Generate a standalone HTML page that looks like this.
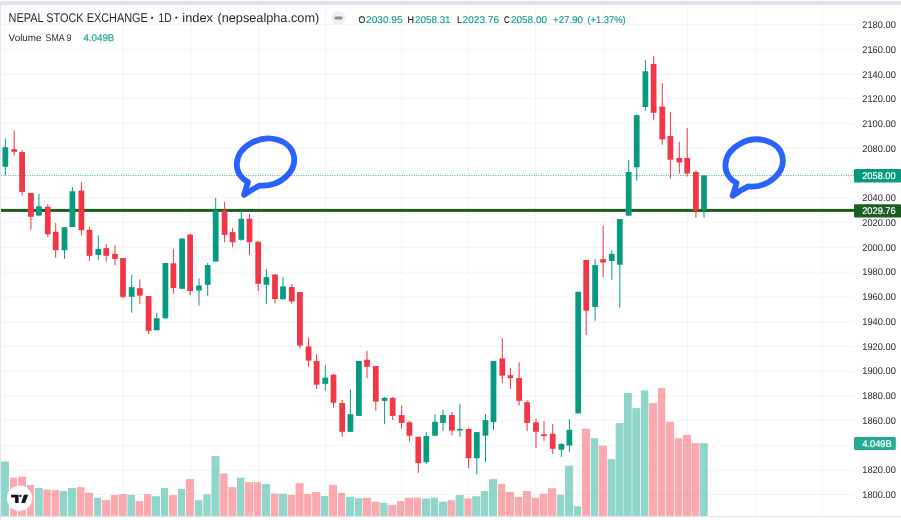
<!DOCTYPE html>
<html lang="en"><head><meta charset="utf-8"><title>NEPAL STOCK EXCHANGE</title>
<style>html,body{margin:0;padding:0;background:#fff;overflow:hidden}body{width:901px;height:520px}svg{display:block;position:absolute;left:0;top:0}text{font-family:"Liberation Sans",Arial,sans-serif;text-rendering:geometricPrecision}</style>
</head><body>
<svg width="901" height="520" viewBox="0 0 901 520">
<rect x="0" y="0" width="901" height="520" fill="#ffffff"/>
<rect x="0" y="0.9" width="901" height="4" fill="#e0e3eb"/>
<rect x="0" y="1" width="1" height="519" fill="#e0e3eb"/>
<rect x="0" y="516" width="854" height="1.1" fill="#e0e3eb"/>
<rect x="855.2" y="516" width="45.8" height="1.1" fill="#e0e3eb"/>
<g fill="rgba(42,46,57,0.055)">
<rect x="4.85" y="5" width="1" height="511"/>
<rect x="122.80" y="5" width="1" height="511"/>
<rect x="190.00" y="5" width="1" height="511"/>
<rect x="258.00" y="5" width="1" height="511"/>
<rect x="325.10" y="5" width="1" height="511"/>
<rect x="401.10" y="5" width="1" height="511"/>
<rect x="468.10" y="5" width="1" height="511"/>
<rect x="535.20" y="5" width="1" height="511"/>
<rect x="602.90" y="5" width="1" height="511"/>
<rect x="686.90" y="5" width="1" height="511"/>
<rect x="755.00" y="5" width="1" height="511"/>
<rect x="821.90" y="5" width="1" height="511"/>
<rect x="1" y="23.90" width="853" height="1"/>
<rect x="1" y="48.90" width="853" height="1"/>
<rect x="1" y="73.80" width="853" height="1"/>
<rect x="1" y="98.20" width="853" height="1"/>
<rect x="1" y="122.60" width="853" height="1"/>
<rect x="1" y="147.70" width="853" height="1"/>
<rect x="1" y="172.80" width="853" height="1"/>
<rect x="1" y="197.40" width="853" height="1"/>
<rect x="1" y="221.80" width="853" height="1"/>
<rect x="1" y="246.80" width="853" height="1"/>
<rect x="1" y="271.70" width="853" height="1"/>
<rect x="1" y="296.70" width="853" height="1"/>
<rect x="1" y="321.70" width="853" height="1"/>
<rect x="1" y="345.90" width="853" height="1"/>
<rect x="1" y="370.80" width="853" height="1"/>
<rect x="1" y="395.90" width="853" height="1"/>
<rect x="1" y="419.90" width="853" height="1"/>
<rect x="1" y="444.90" width="853" height="1"/>
<rect x="1" y="469.60" width="853" height="1"/>
<rect x="1" y="494.00" width="853" height="1"/>
</g>
<g>
<rect x="1.05" y="461.5" width="7.90" height="54.4" fill="rgba(34,171,148,0.5)"/>
<rect x="10.05" y="477.7" width="7.00" height="38.2" fill="rgba(247,82,95,0.5)"/>
<rect x="18.05" y="476.9" width="7.90" height="39.0" fill="rgba(247,82,95,0.5)"/>
<rect x="26.95" y="484.9" width="7.00" height="31.0" fill="rgba(247,82,95,0.5)"/>
<rect x="34.95" y="488.0" width="7.80" height="27.9" fill="rgba(34,171,148,0.5)"/>
<rect x="43.35" y="489.5" width="7.30" height="26.4" fill="rgba(247,82,95,0.5)"/>
<rect x="51.65" y="490.2" width="7.70" height="25.7" fill="rgba(247,82,95,0.5)"/>
<rect x="60.05" y="491.1" width="7.20" height="24.8" fill="rgba(34,171,148,0.5)"/>
<rect x="68.05" y="488.0" width="8.10" height="27.9" fill="rgba(34,171,148,0.5)"/>
<rect x="76.95" y="487.1" width="7.40" height="28.8" fill="rgba(247,82,95,0.5)"/>
<rect x="84.95" y="492.8" width="8.10" height="23.1" fill="rgba(247,82,95,0.5)"/>
<rect x="94.05" y="497.7" width="7.00" height="18.2" fill="rgba(34,171,148,0.5)"/>
<rect x="101.85" y="500.0" width="8.30" height="15.9" fill="rgba(247,82,95,0.5)"/>
<rect x="110.75" y="495.1" width="7.20" height="20.8" fill="rgba(247,82,95,0.5)"/>
<rect x="118.75" y="494.2" width="8.00" height="21.7" fill="rgba(247,82,95,0.5)"/>
<rect x="127.35" y="494.9" width="7.60" height="21.0" fill="rgba(34,171,148,0.5)"/>
<rect x="135.55" y="501.1" width="7.70" height="14.8" fill="rgba(247,82,95,0.5)"/>
<rect x="144.05" y="494.2" width="7.30" height="21.7" fill="rgba(247,82,95,0.5)"/>
<rect x="152.05" y="496.2" width="7.90" height="19.7" fill="rgba(34,171,148,0.5)"/>
<rect x="160.95" y="488.0" width="7.20" height="27.9" fill="rgba(34,171,148,0.5)"/>
<rect x="168.95" y="495.1" width="8.00" height="20.8" fill="rgba(247,82,95,0.5)"/>
<rect x="177.85" y="488.9" width="7.20" height="27.0" fill="rgba(34,171,148,0.5)"/>
<rect x="185.85" y="479.1" width="8.10" height="36.8" fill="rgba(247,82,95,0.5)"/>
<rect x="194.75" y="500.2" width="7.70" height="15.7" fill="rgba(34,171,148,0.5)"/>
<rect x="203.25" y="494.3" width="7.40" height="21.6" fill="rgba(34,171,148,0.5)"/>
<rect x="211.35" y="456.0" width="8.20" height="59.9" fill="rgba(34,171,148,0.5)"/>
<rect x="220.15" y="473.5" width="7.40" height="42.4" fill="rgba(247,82,95,0.5)"/>
<rect x="228.35" y="487.1" width="8.00" height="28.8" fill="rgba(247,82,95,0.5)"/>
<rect x="236.95" y="477.7" width="7.40" height="38.2" fill="rgba(34,171,148,0.5)"/>
<rect x="245.05" y="482.2" width="8.20" height="33.7" fill="rgba(247,82,95,0.5)"/>
<rect x="254.05" y="482.2" width="7.00" height="33.7" fill="rgba(247,82,95,0.5)"/>
<rect x="261.85" y="484.0" width="8.30" height="31.9" fill="rgba(34,171,148,0.5)"/>
<rect x="270.95" y="493.7" width="7.40" height="22.2" fill="rgba(247,82,95,0.5)"/>
<rect x="278.95" y="493.7" width="8.10" height="22.2" fill="rgba(34,171,148,0.5)"/>
<rect x="287.65" y="494.9" width="7.30" height="21.0" fill="rgba(247,82,95,0.5)"/>
<rect x="295.55" y="483.1" width="8.00" height="32.8" fill="rgba(247,82,95,0.5)"/>
<rect x="304.15" y="494.2" width="7.20" height="21.7" fill="rgba(247,82,95,0.5)"/>
<rect x="312.15" y="492.0" width="8.20" height="23.9" fill="rgba(247,82,95,0.5)"/>
<rect x="320.95" y="496.0" width="7.40" height="19.9" fill="rgba(34,171,148,0.5)"/>
<rect x="328.95" y="484.9" width="8.10" height="31.0" fill="rgba(247,82,95,0.5)"/>
<rect x="338.05" y="492.9" width="7.00" height="23.0" fill="rgba(247,82,95,0.5)"/>
<rect x="345.85" y="496.9" width="8.10" height="19.0" fill="rgba(34,171,148,0.5)"/>
<rect x="354.75" y="498.2" width="7.40" height="17.7" fill="rgba(34,171,148,0.5)"/>
<rect x="362.75" y="497.7" width="8.20" height="18.2" fill="rgba(247,82,95,0.5)"/>
<rect x="371.65" y="501.7" width="7.90" height="14.2" fill="rgba(247,82,95,0.5)"/>
<rect x="380.15" y="502.9" width="7.40" height="13.0" fill="rgba(34,171,148,0.5)"/>
<rect x="388.15" y="504.9" width="8.20" height="11.0" fill="rgba(247,82,95,0.5)"/>
<rect x="396.95" y="501.1" width="7.20" height="14.8" fill="rgba(247,82,95,0.5)"/>
<rect x="404.75" y="497.7" width="8.30" height="18.2" fill="rgba(247,82,95,0.5)"/>
<rect x="413.85" y="497.7" width="7.20" height="18.2" fill="rgba(247,82,95,0.5)"/>
<rect x="421.85" y="498.5" width="8.30" height="17.4" fill="rgba(34,171,148,0.5)"/>
<rect x="430.75" y="497.7" width="7.40" height="18.2" fill="rgba(34,171,148,0.5)"/>
<rect x="438.95" y="501.8" width="8.10" height="14.1" fill="rgba(34,171,148,0.5)"/>
<rect x="447.55" y="500.2" width="7.40" height="15.7" fill="rgba(247,82,95,0.5)"/>
<rect x="455.55" y="495.1" width="8.10" height="20.8" fill="rgba(34,171,148,0.5)"/>
<rect x="464.35" y="498.5" width="7.30" height="17.4" fill="rgba(247,82,95,0.5)"/>
<rect x="472.15" y="496.2" width="8.20" height="19.7" fill="rgba(34,171,148,0.5)"/>
<rect x="480.95" y="491.1" width="7.20" height="24.8" fill="rgba(34,171,148,0.5)"/>
<rect x="488.95" y="479.1" width="8.10" height="36.8" fill="rgba(34,171,148,0.5)"/>
<rect x="498.05" y="484.0" width="7.20" height="31.9" fill="rgba(247,82,95,0.5)"/>
<rect x="505.85" y="492.0" width="8.10" height="23.9" fill="rgba(247,82,95,0.5)"/>
<rect x="514.75" y="496.9" width="7.40" height="19.0" fill="rgba(247,82,95,0.5)"/>
<rect x="522.85" y="491.1" width="8.10" height="24.8" fill="rgba(247,82,95,0.5)"/>
<rect x="531.75" y="497.8" width="7.20" height="18.1" fill="rgba(247,82,95,0.5)"/>
<rect x="539.65" y="493.7" width="7.80" height="22.2" fill="rgba(247,82,95,0.5)"/>
<rect x="548.05" y="488.2" width="8.30" height="27.7" fill="rgba(247,82,95,0.5)"/>
<rect x="557.05" y="494.9" width="7.20" height="21.0" fill="rgba(34,171,148,0.5)"/>
<rect x="565.05" y="465.7" width="8.10" height="50.2" fill="rgba(34,171,148,0.5)"/>
<rect x="573.95" y="506.3" width="7.00" height="9.6" fill="rgba(34,171,148,0.5)"/>
<rect x="581.95" y="428.8" width="8.10" height="87.1" fill="rgba(247,82,95,0.5)"/>
<rect x="590.85" y="438.2" width="7.40" height="77.7" fill="rgba(34,171,148,0.5)"/>
<rect x="598.85" y="445.6" width="8.20" height="70.3" fill="rgba(247,82,95,0.5)"/>
<rect x="607.65" y="459.1" width="7.60" height="56.8" fill="rgba(34,171,148,0.5)"/>
<rect x="615.65" y="423.0" width="7.90" height="92.9" fill="rgba(34,171,148,0.5)"/>
<rect x="623.95" y="392.9" width="7.80" height="123.0" fill="rgba(34,171,148,0.5)"/>
<rect x="632.25" y="408.1" width="7.90" height="107.8" fill="rgba(34,171,148,0.5)"/>
<rect x="640.85" y="390.4" width="7.50" height="125.5" fill="rgba(34,171,148,0.5)"/>
<rect x="648.95" y="403.1" width="8.30" height="112.8" fill="rgba(247,82,95,0.5)"/>
<rect x="657.95" y="387.9" width="7.30" height="128.0" fill="rgba(247,82,95,0.5)"/>
<rect x="665.95" y="421.8" width="8.20" height="94.1" fill="rgba(247,82,95,0.5)"/>
<rect x="674.85" y="438.2" width="7.30" height="77.7" fill="rgba(247,82,95,0.5)"/>
<rect x="682.85" y="434.9" width="8.20" height="81.0" fill="rgba(247,82,95,0.5)"/>
<rect x="691.55" y="443.1" width="7.70" height="72.8" fill="rgba(247,82,95,0.5)"/>
<rect x="699.75" y="443.1" width="8.00" height="72.8" fill="rgba(34,171,148,0.5)"/>
</g>
<rect x="1" y="208.9" width="853" height="3" fill="#1b5e20"/>
<g>
<rect x="4.85" y="138.4" width="1" height="36.8" fill="#089981"/>
<rect x="2.47" y="147.2" width="5.75" height="19.6" fill="#089981"/>
<rect x="13.70" y="130.5" width="1" height="25.1" fill="#f23645"/>
<rect x="11.32" y="149.2" width="5.75" height="2.6" fill="#f23645"/>
<rect x="21.60" y="150.0" width="1" height="45.6" fill="#f23645"/>
<rect x="19.23" y="152.1" width="5.75" height="39.8" fill="#f23645"/>
<rect x="30.40" y="193.0" width="1" height="36.7" fill="#f23645"/>
<rect x="28.02" y="193.0" width="5.75" height="23.8" fill="#f23645"/>
<rect x="38.40" y="193.9" width="1" height="21.7" fill="#089981"/>
<rect x="36.02" y="206.3" width="5.75" height="9.3" fill="#089981"/>
<rect x="47.30" y="204.2" width="1" height="32.7" fill="#f23645"/>
<rect x="44.92" y="206.7" width="5.75" height="27.6" fill="#f23645"/>
<rect x="55.20" y="223.1" width="1" height="34.7" fill="#f23645"/>
<rect x="52.83" y="231.8" width="5.75" height="18.4" fill="#f23645"/>
<rect x="64.00" y="227.3" width="1" height="31.6" fill="#089981"/>
<rect x="61.62" y="227.3" width="5.75" height="22.9" fill="#089981"/>
<rect x="71.90" y="187.2" width="1" height="39.8" fill="#089981"/>
<rect x="69.53" y="191.3" width="5.75" height="35.7" fill="#089981"/>
<rect x="80.90" y="182.4" width="1" height="53.3" fill="#f23645"/>
<rect x="78.53" y="190.5" width="5.75" height="39.7" fill="#f23645"/>
<rect x="89.00" y="227.3" width="1" height="33.5" fill="#f23645"/>
<rect x="86.62" y="229.8" width="5.75" height="26.0" fill="#f23645"/>
<rect x="97.80" y="235.2" width="1" height="24.6" fill="#089981"/>
<rect x="95.42" y="248.9" width="5.75" height="6.0" fill="#089981"/>
<rect x="105.70" y="244.0" width="1" height="17.6" fill="#f23645"/>
<rect x="103.33" y="248.1" width="5.75" height="7.7" fill="#f23645"/>
<rect x="114.50" y="245.2" width="1" height="20.4" fill="#f23645"/>
<rect x="112.12" y="253.9" width="5.75" height="5.0" fill="#f23645"/>
<rect x="122.50" y="258.0" width="1" height="40.5" fill="#f23645"/>
<rect x="120.12" y="258.0" width="5.75" height="38.8" fill="#f23645"/>
<rect x="131.20" y="274.6" width="1" height="38.1" fill="#089981"/>
<rect x="128.82" y="287.1" width="5.75" height="9.7" fill="#089981"/>
<rect x="139.30" y="279.3" width="1" height="24.5" fill="#f23645"/>
<rect x="136.93" y="288.1" width="5.75" height="7.6" fill="#f23645"/>
<rect x="148.10" y="296.0" width="1" height="38.1" fill="#f23645"/>
<rect x="145.72" y="296.0" width="5.75" height="34.8" fill="#f23645"/>
<rect x="156.20" y="313.0" width="1" height="17.3" fill="#089981"/>
<rect x="153.82" y="318.2" width="5.75" height="12.1" fill="#089981"/>
<rect x="164.90" y="263.0" width="1" height="56.0" fill="#089981"/>
<rect x="162.53" y="263.0" width="5.75" height="55.2" fill="#089981"/>
<rect x="172.90" y="248.9" width="1" height="44.9" fill="#f23645"/>
<rect x="170.53" y="263.3" width="5.75" height="24.7" fill="#f23645"/>
<rect x="181.60" y="237.9" width="1" height="50.9" fill="#089981"/>
<rect x="179.22" y="238.5" width="5.75" height="50.3" fill="#089981"/>
<rect x="189.60" y="234.0" width="1" height="61.2" fill="#f23645"/>
<rect x="187.22" y="234.6" width="5.75" height="56.4" fill="#f23645"/>
<rect x="198.50" y="278.4" width="1" height="27.1" fill="#089981"/>
<rect x="196.12" y="285.6" width="5.75" height="4.9" fill="#089981"/>
<rect x="207.20" y="263.0" width="1" height="32.7" fill="#089981"/>
<rect x="204.82" y="265.0" width="5.75" height="19.8" fill="#089981"/>
<rect x="215.20" y="197.9" width="1" height="63.7" fill="#089981"/>
<rect x="212.82" y="210.4" width="5.75" height="51.2" fill="#089981"/>
<rect x="224.10" y="202.0" width="1" height="40.3" fill="#f23645"/>
<rect x="221.72" y="210.6" width="5.75" height="24.2" fill="#f23645"/>
<rect x="232.10" y="228.1" width="1" height="19.1" fill="#f23645"/>
<rect x="229.72" y="232.1" width="5.75" height="10.1" fill="#f23645"/>
<rect x="240.80" y="210.0" width="1" height="30.7" fill="#089981"/>
<rect x="238.43" y="218.8" width="5.75" height="21.0" fill="#089981"/>
<rect x="249.00" y="213.9" width="1" height="41.0" fill="#f23645"/>
<rect x="246.62" y="218.8" width="5.75" height="23.4" fill="#f23645"/>
<rect x="257.70" y="241.0" width="1" height="50.0" fill="#f23645"/>
<rect x="255.32" y="241.8" width="5.75" height="42.0" fill="#f23645"/>
<rect x="265.90" y="268.9" width="1" height="34.9" fill="#089981"/>
<rect x="263.52" y="277.1" width="5.75" height="7.7" fill="#089981"/>
<rect x="274.50" y="274.2" width="1" height="29.3" fill="#f23645"/>
<rect x="272.12" y="274.5" width="5.75" height="24.5" fill="#f23645"/>
<rect x="282.50" y="277.1" width="1" height="22.2" fill="#089981"/>
<rect x="280.12" y="286.4" width="5.75" height="12.9" fill="#089981"/>
<rect x="291.30" y="283.9" width="1" height="19.9" fill="#f23645"/>
<rect x="288.93" y="287.1" width="5.75" height="14.4" fill="#f23645"/>
<rect x="299.40" y="292.1" width="1" height="56.3" fill="#f23645"/>
<rect x="297.02" y="292.1" width="5.75" height="53.5" fill="#f23645"/>
<rect x="308.10" y="337.5" width="1" height="29.3" fill="#f23645"/>
<rect x="305.73" y="346.4" width="5.75" height="14.2" fill="#f23645"/>
<rect x="316.10" y="354.3" width="1" height="34.6" fill="#f23645"/>
<rect x="313.73" y="361.0" width="5.75" height="23.7" fill="#f23645"/>
<rect x="324.80" y="364.8" width="1" height="25.8" fill="#089981"/>
<rect x="322.43" y="377.7" width="5.75" height="6.2" fill="#089981"/>
<rect x="333.00" y="373.5" width="1" height="34.2" fill="#f23645"/>
<rect x="330.62" y="374.8" width="5.75" height="28.0" fill="#f23645"/>
<rect x="341.70" y="400.0" width="1" height="36.8" fill="#f23645"/>
<rect x="339.32" y="403.0" width="5.75" height="28.8" fill="#f23645"/>
<rect x="349.90" y="389.4" width="1" height="42.4" fill="#089981"/>
<rect x="347.52" y="414.2" width="5.75" height="17.6" fill="#089981"/>
<rect x="358.40" y="361.0" width="1" height="54.9" fill="#089981"/>
<rect x="356.02" y="361.0" width="5.75" height="54.9" fill="#089981"/>
<rect x="366.50" y="350.9" width="1" height="27.3" fill="#f23645"/>
<rect x="364.12" y="359.8" width="5.75" height="7.0" fill="#f23645"/>
<rect x="375.30" y="366.0" width="1" height="44.7" fill="#f23645"/>
<rect x="372.93" y="366.0" width="5.75" height="35.6" fill="#f23645"/>
<rect x="384.10" y="397.0" width="1" height="26.8" fill="#089981"/>
<rect x="381.73" y="397.9" width="5.75" height="3.0" fill="#089981"/>
<rect x="392.20" y="397.0" width="1" height="23.1" fill="#f23645"/>
<rect x="389.82" y="397.9" width="5.75" height="18.0" fill="#f23645"/>
<rect x="401.10" y="405.6" width="1" height="23.2" fill="#f23645"/>
<rect x="398.73" y="415.1" width="5.75" height="7.8" fill="#f23645"/>
<rect x="408.90" y="420.9" width="1" height="20.9" fill="#f23645"/>
<rect x="406.52" y="422.3" width="5.75" height="13.4" fill="#f23645"/>
<rect x="417.80" y="436.8" width="1" height="36.0" fill="#f23645"/>
<rect x="415.43" y="436.8" width="5.75" height="26.3" fill="#f23645"/>
<rect x="425.80" y="432.1" width="1" height="31.8" fill="#089981"/>
<rect x="423.43" y="436.0" width="5.75" height="26.2" fill="#089981"/>
<rect x="434.50" y="414.2" width="1" height="21.5" fill="#089981"/>
<rect x="432.12" y="421.8" width="5.75" height="13.9" fill="#089981"/>
<rect x="442.50" y="409.7" width="1" height="21.3" fill="#089981"/>
<rect x="440.12" y="415.1" width="5.75" height="7.8" fill="#089981"/>
<rect x="451.40" y="412.0" width="1" height="23.1" fill="#f23645"/>
<rect x="449.02" y="415.1" width="5.75" height="15.5" fill="#f23645"/>
<rect x="459.40" y="404.0" width="1" height="32.8" fill="#089981"/>
<rect x="457.02" y="428.9" width="5.75" height="1.6" fill="#089981"/>
<rect x="468.10" y="428.1" width="1" height="40.0" fill="#f23645"/>
<rect x="465.73" y="429.0" width="5.75" height="29.2" fill="#f23645"/>
<rect x="476.30" y="432.1" width="1" height="42.1" fill="#089981"/>
<rect x="473.93" y="432.1" width="5.75" height="26.1" fill="#089981"/>
<rect x="485.00" y="414.2" width="1" height="47.7" fill="#089981"/>
<rect x="482.62" y="420.1" width="5.75" height="15.5" fill="#089981"/>
<rect x="493.00" y="360.9" width="1" height="68.9" fill="#089981"/>
<rect x="490.62" y="360.9" width="5.75" height="61.2" fill="#089981"/>
<rect x="501.80" y="338.0" width="1" height="45.0" fill="#f23645"/>
<rect x="499.43" y="358.4" width="5.75" height="17.3" fill="#f23645"/>
<rect x="509.90" y="368.0" width="1" height="20.9" fill="#f23645"/>
<rect x="507.52" y="375.2" width="5.75" height="3.0" fill="#f23645"/>
<rect x="518.60" y="362.3" width="1" height="43.3" fill="#f23645"/>
<rect x="516.23" y="378.0" width="5.75" height="22.8" fill="#f23645"/>
<rect x="526.60" y="400.1" width="1" height="30.9" fill="#f23645"/>
<rect x="524.23" y="402.2" width="5.75" height="20.7" fill="#f23645"/>
<rect x="535.50" y="418.4" width="1" height="29.6" fill="#f23645"/>
<rect x="533.12" y="422.3" width="5.75" height="9.5" fill="#f23645"/>
<rect x="543.50" y="420.9" width="1" height="20.1" fill="#f23645"/>
<rect x="541.12" y="434.3" width="5.75" height="1.7" fill="#f23645"/>
<rect x="552.20" y="423.9" width="1" height="30.0" fill="#f23645"/>
<rect x="549.83" y="433.8" width="5.75" height="15.0" fill="#f23645"/>
<rect x="560.90" y="443.0" width="1" height="13.9" fill="#089981"/>
<rect x="558.52" y="444.0" width="5.75" height="5.7" fill="#089981"/>
<rect x="568.90" y="419.2" width="1" height="32.7" fill="#089981"/>
<rect x="566.52" y="429.8" width="5.75" height="15.7" fill="#089981"/>
<rect x="577.70" y="291.8" width="1" height="121.6" fill="#089981"/>
<rect x="575.33" y="291.8" width="5.75" height="121.6" fill="#089981"/>
<rect x="585.70" y="260.0" width="1" height="75.0" fill="#f23645"/>
<rect x="583.33" y="260.0" width="5.75" height="50.7" fill="#f23645"/>
<rect x="594.60" y="259.2" width="1" height="61.5" fill="#089981"/>
<rect x="592.23" y="265.1" width="5.75" height="41.8" fill="#089981"/>
<rect x="602.60" y="225.7" width="1" height="51.1" fill="#f23645"/>
<rect x="600.23" y="259.2" width="5.75" height="3.3" fill="#f23645"/>
<rect x="611.30" y="250.3" width="1" height="29.5" fill="#089981"/>
<rect x="608.92" y="253.9" width="5.75" height="7.0" fill="#089981"/>
<rect x="619.30" y="219.0" width="1" height="88.7" fill="#089981"/>
<rect x="616.92" y="219.0" width="5.75" height="45.7" fill="#089981"/>
<rect x="628.20" y="159.9" width="1" height="55.8" fill="#089981"/>
<rect x="625.83" y="172.0" width="5.75" height="43.7" fill="#089981"/>
<rect x="636.20" y="114.4" width="1" height="66.4" fill="#089981"/>
<rect x="633.83" y="115.2" width="5.75" height="52.0" fill="#089981"/>
<rect x="644.90" y="60.1" width="1" height="50.7" fill="#089981"/>
<rect x="642.52" y="71.3" width="5.75" height="35.7" fill="#089981"/>
<rect x="653.10" y="56.2" width="1" height="63.8" fill="#f23645"/>
<rect x="650.73" y="63.9" width="5.75" height="48.9" fill="#f23645"/>
<rect x="661.80" y="83.1" width="1" height="61.7" fill="#f23645"/>
<rect x="659.42" y="106.6" width="5.75" height="32.7" fill="#f23645"/>
<rect x="669.90" y="112.0" width="1" height="66.6" fill="#f23645"/>
<rect x="667.52" y="136.0" width="5.75" height="23.7" fill="#f23645"/>
<rect x="678.80" y="141.8" width="1" height="31.7" fill="#f23645"/>
<rect x="676.42" y="158.0" width="5.75" height="4.4" fill="#f23645"/>
<rect x="686.70" y="128.1" width="1" height="48.5" fill="#f23645"/>
<rect x="684.33" y="158.0" width="5.75" height="15.5" fill="#f23645"/>
<rect x="695.40" y="170.2" width="1" height="47.5" fill="#f23645"/>
<rect x="693.02" y="172.0" width="5.75" height="38.6" fill="#f23645"/>
<rect x="703.50" y="175.3" width="1" height="42.4" fill="#089981"/>
<rect x="701.12" y="175.4" width="5.75" height="34.7" fill="#089981"/>
</g>
<line x1="1.1" y1="175.45" x2="854" y2="175.45" stroke="#089981" stroke-width="1" stroke-dasharray="0.8 1.6" opacity="0.95"/>
<g transform="translate(0,0)" fill="none" stroke="#2962ff" stroke-width="5.8" stroke-linejoin="round" stroke-linecap="round"><path d="M247.95 182.16 A29.0 23.2 -14 1 1 259.67 185.56 Q251.24 189.63 244.0 194.9 Z"/></g>
<g transform="translate(488.6,0.9)" fill="none" stroke="#2962ff" stroke-width="5.8" stroke-linejoin="round" stroke-linecap="round"><path d="M247.95 182.16 A29.0 23.2 -14 1 1 259.67 185.56 Q251.24 189.63 244.0 194.9 Z"/></g>
<g font-size="9.8" fill="#1c202b">
<text x="862.3" y="28.05" textLength="33.5" lengthAdjust="spacingAndGlyphs">2180.00</text>
<text x="862.3" y="52.78" textLength="33.5" lengthAdjust="spacingAndGlyphs">2160.00</text>
<text x="862.3" y="77.51" textLength="33.5" lengthAdjust="spacingAndGlyphs">2140.00</text>
<text x="862.3" y="102.24" textLength="33.5" lengthAdjust="spacingAndGlyphs">2120.00</text>
<text x="862.3" y="126.97" textLength="33.5" lengthAdjust="spacingAndGlyphs">2100.00</text>
<text x="862.3" y="151.70" textLength="33.5" lengthAdjust="spacingAndGlyphs">2080.00</text>
<text x="862.3" y="176.43" textLength="33.5" lengthAdjust="spacingAndGlyphs">2060.00</text>
<text x="862.3" y="201.16" textLength="33.5" lengthAdjust="spacingAndGlyphs">2040.00</text>
<text x="862.3" y="225.89" textLength="33.5" lengthAdjust="spacingAndGlyphs">2020.00</text>
<text x="862.3" y="250.62" textLength="33.5" lengthAdjust="spacingAndGlyphs">2000.00</text>
<text x="862.3" y="275.35" textLength="33.5" lengthAdjust="spacingAndGlyphs">1980.00</text>
<text x="862.3" y="300.08" textLength="33.5" lengthAdjust="spacingAndGlyphs">1960.00</text>
<text x="862.3" y="324.81" textLength="33.5" lengthAdjust="spacingAndGlyphs">1940.00</text>
<text x="862.3" y="349.54" textLength="33.5" lengthAdjust="spacingAndGlyphs">1920.00</text>
<text x="862.3" y="374.27" textLength="33.5" lengthAdjust="spacingAndGlyphs">1900.00</text>
<text x="862.3" y="399.00" textLength="33.5" lengthAdjust="spacingAndGlyphs">1880.00</text>
<text x="862.3" y="423.73" textLength="33.5" lengthAdjust="spacingAndGlyphs">1860.00</text>
<text x="862.3" y="473.19" textLength="33.5" lengthAdjust="spacingAndGlyphs">1820.00</text>
<text x="862.3" y="497.92" textLength="33.5" lengthAdjust="spacingAndGlyphs">1800.00</text>
</g>
<rect x="854" y="169" width="47" height="13.4" rx="1.2" fill="#089981"/>
<text x="862.2" y="179.2" font-size="9.8" fill="#fff" stroke="#fff" stroke-width="0.2" textLength="33.5" lengthAdjust="spacingAndGlyphs">2058.00</text>
<rect x="854" y="204.2" width="47" height="13.4" rx="1.2" fill="#1b5e20"/>
<text x="862.2" y="214.4" font-size="9.8" fill="#fff" stroke="#fff" stroke-width="0.2" textLength="33.5" lengthAdjust="spacingAndGlyphs">2029.76</text>
<rect x="854" y="437" width="41.8" height="13" rx="1.5" fill="#22ab94"/>
<text x="862.2" y="447" font-size="9.8" fill="#fff" stroke="#fff" stroke-width="0.2" textLength="29.6" lengthAdjust="spacingAndGlyphs">4.049B</text>
<text y="21.95" font-size="12.6" fill="#1e222d"><tspan x="8.6" textLength="139.3" lengthAdjust="spacingAndGlyphs">NEPAL STOCK EXCHANGE</tspan> <tspan x="150.23" font-weight="bold" font-size="13">·</tspan> <tspan x="158.6" textLength="13.2" lengthAdjust="spacingAndGlyphs">1D</tspan> <tspan x="174.53" font-weight="bold" font-size="13">·</tspan> <tspan x="182.3" textLength="30.7" lengthAdjust="spacingAndGlyphs">index</tspan> <tspan x="217.5" textLength="101.7" lengthAdjust="spacingAndGlyphs">(nepsealpha.com)</tspan></text>
<circle cx="338.5" cy="18" r="7.3" fill="#eef0f5"/>
<rect x="334.4" y="16.55" width="8.2" height="2.9" rx="1.45" fill="#8b8e99"/>
<text y="22.85" font-size="9.8" stroke-width="0.1"><tspan x="358.6" textLength="6.8" lengthAdjust="spacingAndGlyphs" fill="#131722" stroke="#131722">O</tspan><tspan x="366" textLength="36.6" lengthAdjust="spacingAndGlyphs" fill="#089981" stroke="#089981">2030.95</tspan> <tspan x="407.6" textLength="6.4" lengthAdjust="spacingAndGlyphs" fill="#131722" stroke="#131722">H</tspan><tspan x="415" textLength="35.6" lengthAdjust="spacingAndGlyphs" fill="#089981" stroke="#089981">2058.31</tspan> <tspan x="457" textLength="5.0" lengthAdjust="spacingAndGlyphs" fill="#131722" stroke="#131722">L</tspan><tspan x="462.6" textLength="36.4" lengthAdjust="spacingAndGlyphs" fill="#089981" stroke="#089981">2023.76</tspan> <tspan x="504" textLength="5.6" lengthAdjust="spacingAndGlyphs" fill="#131722" stroke="#131722">C</tspan><tspan x="511" textLength="36.0" lengthAdjust="spacingAndGlyphs" fill="#089981" stroke="#089981">2058.00</tspan> <tspan x="553" textLength="30.0" lengthAdjust="spacingAndGlyphs" fill="#089981" stroke="#089981">+27.90</tspan> <tspan x="587.4" textLength="38.2" lengthAdjust="spacingAndGlyphs" fill="#089981" stroke="#089981">(+1.37%)</tspan></text>
<text y="41" font-size="9.8" stroke-width="0"><tspan x="8.6" textLength="33.0" lengthAdjust="spacingAndGlyphs" fill="#1e222d" stroke="#1e222d">Volume</tspan> <tspan x="45.6" textLength="25.8" lengthAdjust="spacingAndGlyphs" fill="#1e222d" stroke="#1e222d">SMA 9</tspan> <tspan x="83.4" textLength="31.0" lengthAdjust="spacingAndGlyphs" fill="#22ab94" stroke="#22ab94" stroke-width="0.25">4.049B</tspan></text>
<circle cx="19.6" cy="498.2" r="12.7" fill="#ffffff"/>
<g fill="#131722">
<path d="M11.2 494.8 H18.6 V502.9 H15.1 V497.5 H11.2 Z"/>
<circle cx="20.4" cy="495.85" r="1.2"/>
<path d="M23.9 494.8 H28.2 L25.1 502.9 H21.2 Z"/>
</g>
</svg>
</body></html>
